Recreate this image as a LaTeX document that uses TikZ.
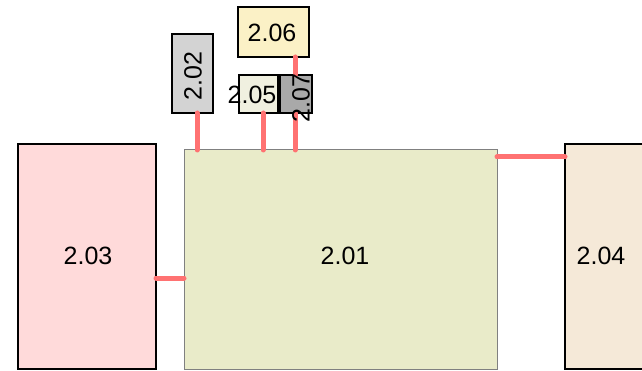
\documentclass[tikz,border=0pt]{standalone}
\usepackage{fontspec}
\setmainfont{Liberation Sans}
\usepackage{tikz}
\usetikzlibrary{positioning}

\definecolor{pinkbox}{HTML}{FFDADA}
\definecolor{olivebox}{HTML}{E9EBC9}
\definecolor{sandbox}{HTML}{F5E9D8}
\definecolor{greybox}{HTML}{D3D3D3}
\definecolor{yellowbox}{HTML}{FBF1C6}
\definecolor{ivorybox}{HTML}{F0F0E0}
\definecolor{darkbox}{HTML}{A9A9A9}
\definecolor{linkred}{HTML}{FF7272}

\begin{document}
\begin{tikzpicture}[x=1pt,y=-1pt,
  box/.style={draw,line width=2pt,anchor=north west,inner sep=0pt,outer sep=0pt},
  link/.style={draw=linkred,line width=5pt,line cap=round},
  lbl/.style={font=\fontsize{25}{30}\selectfont,inner sep=0pt}]
\useasboundingbox (0,0) rectangle (642,371);
% rooms
\node[box,fill=pinkbox,minimum width=138pt,minimum height=225pt](b203) at (18,144){};
\node[box,fill=olivebox,draw=gray,line width=1pt,minimum width=313pt,minimum height=219pt](b201) at (184,150){};
\node[box,fill=sandbox,minimum width=95pt,minimum height=225pt](b204) at (565,144){};
\node[box,fill=greybox,minimum width=41pt,minimum height=79pt](b202) at (172,34){};
\node[box,fill=yellowbox,minimum width=71pt,minimum height=50pt](b206) at (238,7){};
\node[box,fill=ivorybox,minimum width=39pt,minimum height=38pt](b205) at (239,75){};
\node[box,fill=darkbox,minimum width=32pt,minimum height=38pt](b207) at (280,75){};
% links
\draw[link](b203.east |- 0,278)--(b201.west |- 0,278);
\draw[link](b201.east |- 0,157)--(b204.west |- 0,157);
\draw[link](b202.south -| 197,0)--(b201.north -| 197,0);
\draw[link](b205.south -| 263,0)--(b201.north -| 263,0);
\draw[link](b206.south -| 295,0)--(b207.north -| 295,0);
\draw[link](b207.south -| 295,0)--(b201.north -| 295,0);
% labels
\node[lbl](t203) at (88,256){2.03};
\node[lbl](t201) at (345,256){2.01};
\node[lbl](t204) at (601,256){2.04};
\node[lbl,rotate=90](t202) at (193,76){2.02};
\node[lbl](t206) at (272,33){2.06};
\node[lbl](t205) at (252,95){2.05};
\node[lbl,rotate=90](t207) at (301,98){2.07};
\end{tikzpicture}
\end{document}
